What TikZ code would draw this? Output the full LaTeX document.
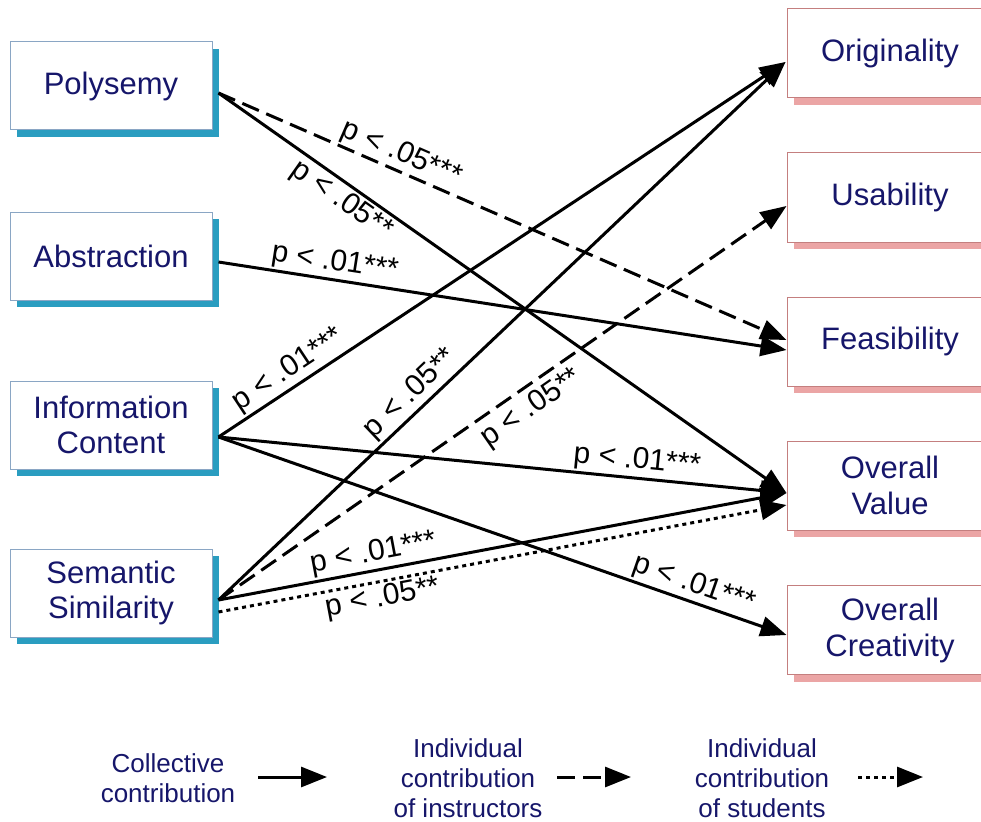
\documentclass[tikz,border=0pt]{standalone}
\usepackage{fontspec}
\setmainfont{Liberation Sans}
\usetikzlibrary{arrows.meta,shadows,calc}
\definecolor{navy}{HTML}{16166A}
\definecolor{lbord}{HTML}{8AA6C4}
\definecolor{lshad}{HTML}{2A9DC0}
\definecolor{rbord}{HTML}{C47F7F}
\definecolor{rshad}{HTML}{EBA5A5}
\begin{document}
\begin{tikzpicture}[x=1pt,y=-1pt,
  lbox/.style={draw=lbord, line width=1pt, fill=white, minimum width=202pt, minimum height=88pt,
    font=\fontsize{31}{35}\selectfont, text=navy, align=center,
    drop shadow={shadow xshift=7pt, shadow yshift=-7pt, fill=lshad, opacity=1}},
  rbox/.style={draw=rbord, line width=1pt, fill=white, minimum width=206pt, minimum height=89pt,
    font=\fontsize{31}{36}\selectfont, text=navy, align=center,
    drop shadow={shadow xshift=7pt, shadow yshift=-7pt, fill=rshad, opacity=1}},
  conn/.style={line width=3pt, -{Triangle[length=26pt,width=20pt]}},
  dashconn/.style={conn, dash pattern=on 18pt off 8pt},
  dotconn/.style={conn, dash pattern=on 4pt off 4pt},
  lab/.style={font=\fontsize{30}{34}\selectfont, sloped, inner sep=2pt},
  leg/.style={font=\fontsize{26}{30}\selectfont, text=navy, align=center}]
\useasboundingbox (0,0) rectangle (981,821);

% left boxes
\node[lbox] (poly) at (111,86) {Polysemy};
\node[lbox] (abs) at (111,256) {Abstraction};
\node[lbox] (info) at (111,425) {Information\\Content};
\node[lbox] (sem) at (111,593) {Semantic\\Similarity};

% right boxes
\node[rbox] (orig) at (890,53.5) {Originality};
\node[rbox] (usab) at (890,197.5) {Usability};
\node[rbox] (feas) at (890,341.5) {Feasibility};
\node[rbox] (value) at (890,485.5) {Overall\\Value};
\node[rbox] (creat) at (890,630) {Overall\\Creativity};

% start points
\coordinate (polyS) at ([shift={(6,7)}]poly.east);
\coordinate (absS) at ([shift={(6,6)}]abs.east);
\coordinate (infoS) at ([shift={(6,12)}]info.east);
\coordinate (semS) at ([shift={(6,7)}]sem.east);
\coordinate (semD) at ([shift={(6,19)}]sem.east);
% end points
\coordinate (origE) at ([shift={(-1,8.5)}]orig.west);
\coordinate (usabE) at ([shift={(0,8.5)}]usab.west);
\coordinate (feasD) at ([shift={(0,-1.5)}]feas.west);
\coordinate (feasE) at ([shift={(0,8.5)}]feas.west);
\coordinate (valueE) at ([shift={(0,7.5)}]value.west);
\coordinate (valueD) at ([shift={(0,19.5)}]value.west);
\coordinate (creatE) at ([shift={(0,5)}]creat.west);

% connectors
\draw[dashconn] (polyS) -- node[lab, above, pos=0.31] {p < .05***} (feasD);
\draw[conn] (polyS) -- node[lab, below, pos=0.234] {p < .05**} (valueE);
\draw[conn] (absS) -- node[lab, above, pos=0.2] {p < .01***} (feasE);
\draw[conn] (infoS) -- node[lab, above, pos=0.14] {p < .01***} (origE);
\draw[conn] (infoS) -- node[lab, above, pos=0.734] {p < .01***} (valueE);
\draw[conn] (infoS) -- node[lab, above, pos=0.827] {p < .01***} (creatE);
\draw[conn] (semS) -- node[lab, above, pos=0.36] {p < .05**} (origE);
\draw[dashconn] (semS) -- node[lab, below=4pt, pos=0.53] {p < .05**} (usabE);
\draw[conn] (semS) -- node[lab, above, pos=0.278] {p < .01***} (valueE);
\draw[dotconn] (semD) -- node[lab, below, pos=0.283] {p < .05**} (valueD);

% legend
\node[leg] (l1) at (168,778) {Collective\\contribution};
\node[leg] (l2) at (468,778) {Individual\\contribution\\of instructors};
\node[leg] (l3) at (762,778) {Individual\\contribution\\of students};
\coordinate (a1s) at (258,777); \coordinate (a1e) at (327,777);
\coordinate (a2s) at (557,777); \coordinate (a2e) at (631,777);
\coordinate (a3s) at (858,777); \coordinate (a3e) at (923,777);
\draw[conn] (a1s) -- (a1e);
\draw[dashconn] (a2s) -- (a2e);
\draw[dotconn] (a3s) -- (a3e);
\end{tikzpicture}
\end{document}
